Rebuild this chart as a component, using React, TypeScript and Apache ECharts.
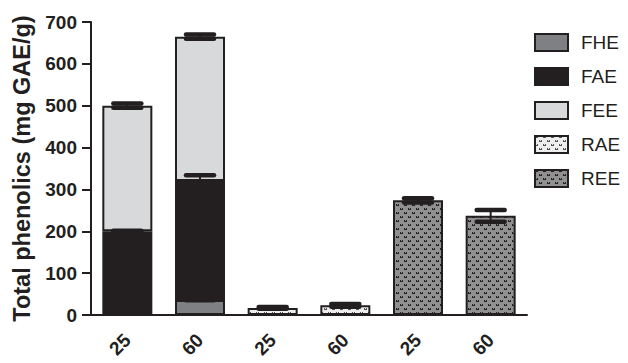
import React, { useEffect, useRef } from "react";
import * as echarts from "echarts";

const categories = ["25", "60", "25", "60", "25", "60"];
const fheValues = [null, 36, null, null, null, null];
const faeValues = [200, 284, null, null, null, null];
const feeValues = [300, 345, null, null, null, null];
const raeValues = [null, null, 17, 23, null, null];
const reeValues = [null, null, null, null, 274, 237];

const fheErr = [null, 1, null, null, null, null];
const faeErr = [1, 14, null, null, null, null];
const feeErr = [5, 5, null, null, null, null];
const raeErr = [null, null, 2, 3, null, null];
const reeErr = [null, null, null, null, 5, 14];

const yTicks = { min: 0, max: 700, interval: 100 };

const INK = "#231f20";
const FONT = "Liberation Sans, Arial, sans-serif";

function makePattern(bg: string, dot: string) {
  const c = document.createElement("canvas");
  c.width = 8;
  c.height = 8;
  const ctx = c.getContext("2d")!;
  ctx.fillStyle = bg;
  ctx.fillRect(0, 0, 8, 8);
  ctx.fillStyle = dot;
  const v = (x: number, y: number) => {
    ctx.fillRect(x, y, 1, 1);
    ctx.fillRect(x + 2, y, 1, 1);
    ctx.fillRect(x + 1, y + 1, 1, 1);
    ctx.fillRect(x, y + 1, 1, 1);
    ctx.fillRect(x + 2, y + 1, 1, 1);
  };
  v(0, 0);
  v(4, 4);
  return c;
}

export default function App() {
  const ref = useRef<HTMLDivElement>(null);
  useEffect(() => {
    document.body.style.margin = "0";
    if (!ref.current) return;
    const chart = echarts.init(ref.current, null, { renderer: "svg" });

    const seriesDefs = [
      { name: "FHE", data: fheValues, err: fheErr, color: "#7f8083" as any },
      { name: "FAE", data: faeValues, err: faeErr, color: INK as any },
      { name: "FEE", data: feeValues, err: feeErr, color: "#d8d9db" as any },
      {
        name: "RAE",
        data: raeValues,
        err: raeErr,
        color: { image: makePattern("#eeeeee", "#555555"), repeat: "repeat" } as any,
      },
      {
        name: "REE",
        data: reeValues,
        err: reeErr,
        color: { image: makePattern("#909090", "#222222"), repeat: "repeat" } as any,
      },
    ];

    const cum = categories.map(() => 0);
    const errData: any[] = [];
    seriesDefs.forEach((s) => {
      s.data.forEach((v, i) => {
        if (v == null) return;
        cum[i] += v as number;
        const e = s.err[i];
        if (e != null) errData.push([i, cum[i], e]);
      });
    });

    const barSeries = seriesDefs.map((s) => ({
      name: s.name,
      type: "bar",
      stack: "total",
      barWidth: 50,
      data: s.data,
      itemStyle: { color: s.color, borderColor: INK, borderWidth: 2 },
    }));

    chart.setOption({
      animation: false,
      grid: { left: 91, right: 101, top: 22, bottom: 48, containLabel: false },
      legend: {
        orient: "vertical",
        left: 529,
        top: 28,
        icon: "rect",
        itemWidth: 33,
        itemHeight: 17,
        itemGap: 15,
        data: seriesDefs.map((s) => s.name),
        textStyle: {
          fontFamily: FONT,
          fontSize: 19,
          lineHeight: 19,
          color: INK,
          padding: [0, 0, 0, 8],
        },
      },
      xAxis: {
        type: "category",
        data: categories,
        axisLine: { lineStyle: { color: INK, width: 2 } },
        axisTick: { alignWithLabel: true, length: 8, lineStyle: { color: INK, width: 2 } },
        axisLabel: {
          rotate: 45,
          margin: 22,
          fontFamily: FONT,
          fontWeight: "bold",
          fontSize: 19,
          color: INK,
        },
      },
      yAxis: {
        type: "value",
        min: yTicks.min,
        max: yTicks.max,
        interval: yTicks.interval,
        name: "Total phenolics (mg GAE/g)",
        nameLocation: "middle",
        nameGap: 51,
        nameTextStyle: {
          fontFamily: FONT,
          fontWeight: "bold",
          fontSize: 23.5,
          color: INK,
        },
        axisLine: { show: true, lineStyle: { color: INK, width: 2 } },
        axisTick: { show: true, length: 9, lineStyle: { color: INK, width: 2 } },
        splitLine: { show: false },
        axisLabel: {
          margin: 14,
          fontFamily: FONT,
          fontWeight: "bold",
          fontSize: 19,
          color: INK,
        },
      },
      series: [
        ...barSeries,
        {
          name: "err",
          type: "custom",
          z: 5,
          data: errData,
          renderItem: (params: any, api: any) => {
            const x = api.value(0);
            const y = api.value(1);
            const e = api.value(2);
            const pt = api.coord([x, y + e]);
            const pb = api.coord([x, y - e]);
            const hw = 14;
            const capStyle = { stroke: INK, lineWidth: 4.5, lineCap: "round" };
            return {
              type: "group",
              children: [
                {
                  type: "line",
                  shape: { x1: pt[0], y1: pt[1], x2: pb[0], y2: pb[1] },
                  style: { stroke: INK, lineWidth: 2 },
                },
                {
                  type: "line",
                  shape: { x1: pt[0] - hw, y1: pt[1], x2: pt[0] + hw, y2: pt[1] },
                  style: capStyle,
                },
                {
                  type: "line",
                  shape: { x1: pb[0] - hw, y1: pb[1], x2: pb[0] + hw, y2: pb[1] },
                  style: capStyle,
                },
              ],
            };
          },
        },
      ],
    });
    return () => chart.dispose();
  }, []);
  return <div ref={ref} style={{ width: 628, height: 363 }} />;
}
